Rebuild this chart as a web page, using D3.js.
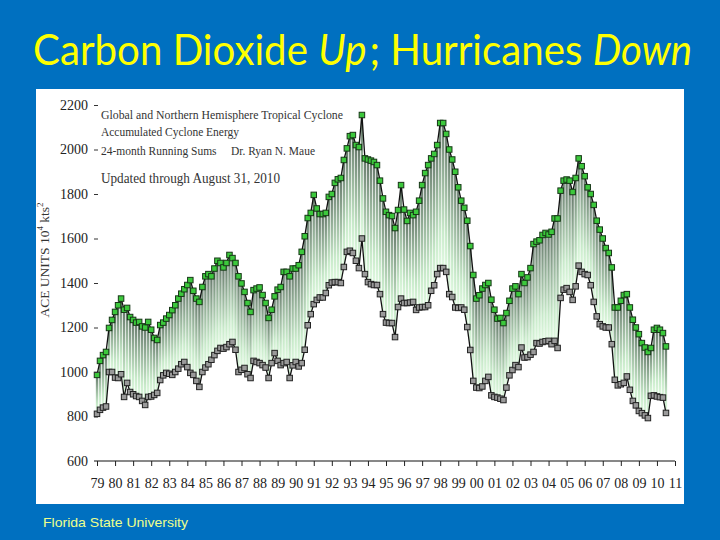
<!DOCTYPE html>
<html><head><meta charset="utf-8">
<script src="https://cdn.jsdelivr.net/npm/d3@7"></script>
<style>html,body{margin:0;padding:0;background:#0070c0;}svg{display:block;}</style>
</head><body>
<svg id="chart" width="720" height="540"></svg>
<script>
// ---- data (24-month running sums, read every two months from Jan 1979) ----
const startYear = 1979;
const stepsPerYear = 6;
const globalACE = [
 987,1050,1076,1090,1198,1234,1270,1300,1330,1280,
 1288,1247,1234,1222,1225,1205,1200,1225,1190,1153,
 1144,1211,1222,1240,1256,1278,1300,1330,1352,1372,
 1391,1413,1365,1330,1315,1382,1430,1440,1430,1465,
 1500,1490,1470,1490,1526,1512,1490,1430,1398,1360,
 1310,1270,1368,1375,1380,1346,1310,1243,1280,1340,
 1370,1382,1450,1450,1430,1465,1465,1480,1540,1610,
 1692,1715,1796,1735,1710,1710,1715,1787,1800,1850,
 1866,1872,1953,2005,2060,2065,2020,2011,2155,1960,
 1955,1950,1944,1930,1860,1780,1720,1705,1701,1647,
 1728,1840,1730,1679,1715,1705,1720,1770,1840,1894,
 1930,1960,1980,2020,2119,2119,2070,2000,1955,1900,
 1830,1770,1738,1680,1566,1436,1330,1345,1375,1391,
 1400,1325,1280,1240,1243,1220,1265,1320,1375,1385,
 1350,1440,1400,1425,1467,1575,1586,1592,1616,1625,
 1618,1630,1690,1690,1815,1860,1865,1860,1809,1872,
 1960,1925,1880,1830,1800,1751,1680,1640,1600,1557,
 1535,1470,1290,1290,1320,1346,1350,1290,1235,1200,
 1170,1130,1110,1090,1108,1190,1198,1190,1175,1115];
const nhACE = [
 812,830,840,845,1000,1000,975,973,990,888,
 951,910,900,892,888,870,852,888,890,897,
 906,964,985,996,992,987,1000,1015,1035,1045,
 1022,996,987,960,933,1000,1020,1035,1055,1076,
 1095,1108,1105,1112,1125,1135,1100,1000,1010,1018,
 990,973,1050,1045,1040,1031,1020,973,1040,1085,
 1050,1031,1040,1045,973,1030,1045,1025,1040,1100,
 1210,1260,1305,1324,1335,1335,1355,1390,1402,1404,
 1404,1400,1472,1540,1545,1535,1500,1467,1600,1440,
 1404,1395,1391,1391,1350,1260,1222,1220,1220,1157,
 1292,1330,1310,1310,1312,1315,1279,1290,1292,1292,
 1300,1365,1390,1440,1467,1467,1450,1350,1337,1290,
 1288,1290,1280,1202,1099,960,930,928,935,960,
 978,895,888,885,880,874,930,985,1009,1031,
 1022,1110,1065,1067,1078,1090,1130,1128,1135,1138,
 1140,1125,1140,1108,1333,1370,1377,1360,1324,1385,
 1478,1450,1440,1436,1390,1315,1250,1215,1205,1200,
 1200,1125,965,940,945,951,980,920,870,850,
 825,815,805,793,893,895,890,887,885,816];
const yTicks = [600,800,1000,1200,1400,1600,1800,2000,2200];
const xTickYears = d3.range(1979, 2012);
const xTickLabels = ["79","80","81","82","83","84","85","86","87","88","89","90","91","92","93","94","95","96","97","98","99","00","01","02","03","04","05","06","07","08","09","10","11"];
const titleParts = [["Carbon Dioxide ",false],["Up",true],["; Hurricanes ",false],["Down",true]];
const noteLines = ["Global and Northern Hemisphere Tropical Cyclone","Accumulated Cyclone Energy","24-month Running Sums\u00a0\u00a0\u00a0\u00a0 Dr. Ryan N. Maue","Updated through August 31, 2010"];
const footer = "Florida State University";

const times = globalACE.map((_, i) => startYear + i / stepsPerYear);
const data = times.map((t, i) => ({t, g: globalACE[i], n: nhACE[i]}));

const svg = d3.select("#chart");
svg.append("rect").attr("width",720).attr("height",540).attr("fill","#0070c0");

// title: parts laid out one after another, then the group is scaled to the reference width
const titleG = svg.append("g");
let cx = 0;
titleParts.forEach(([s,it]) => {
  const t = titleG.append("text").attr("x",cx).attr("y",0)
    .attr("font-family","Lato, 'Open Sans', sans-serif").attr("font-size",42)
    .attr("font-style", it?"italic":"normal").attr("fill","#ffff00")
    .style("white-space","pre").text(s);
  cx += t.node().getComputedTextLength() + (it ? 3 : 0);
});
titleG.attr("transform", `translate(33,65) scale(${662/cx},1)`);

// white panel
svg.append("rect").attr("x",36).attr("y",89).attr("width",648).attr("height",415).attr("fill","#ffffff");

// footer
svg.append("text").attr("x",43).attr("y",527).attr("font-family","'Liberation Sans', Arial, sans-serif")
  .attr("font-size",13).attr("fill","#eeff8c").attr("textLength",145).attr("lengthAdjust","spacingAndGlyphs").text(footer);

// scales
const x = d3.scaleLinear().domain([1979, 2011]).range([97, 675]);
const y = d3.scaleLinear().domain([600, 2200]).range([461, 105]);

// gradient
const defs = svg.append("defs");
const grad = defs.append("linearGradient").attr("id","barGrad").attr("x1",0).attr("y1",0).attr("x2",0).attr("y2",1);
grad.append("stop").attr("offset","0%").attr("stop-color","#66786b");
grad.append("stop").attr("offset","35%").attr("stop-color","#94b098");
grad.append("stop").attr("offset","75%").attr("stop-color","#c8eaca");
grad.append("stop").attr("offset","100%").attr("stop-color","#e2fae2");

const bw = 2.3;
svg.append("g").selectAll("rect").data(data).join("rect")
  .attr("x", d => x(d.t) - bw/2).attr("width", bw)
  .attr("y", d => y(d.g)).attr("height", d => Math.max(0, y(d.n) - y(d.g)))
  .attr("fill","url(#barGrad)");

// lines
const lineG = d3.line().x(d => x(d.t)).y(d => y(d.g));
const lineN = d3.line().x(d => x(d.t)).y(d => y(d.n));
svg.append("path").datum(data).attr("d", lineN).attr("fill","none").attr("stroke","#111").attr("stroke-width",1.3);
svg.append("path").datum(data).attr("d", lineG).attr("fill","none").attr("stroke","#111").attr("stroke-width",1.3);

// markers
const ms = 5.5;
svg.append("g").selectAll("rect").data(data).join("rect")
  .attr("x", d => x(d.t) - ms/2).attr("y", d => y(d.n) - ms/2).attr("width", ms).attr("height", ms)
  .attr("fill","#9a9a9a").attr("stroke","#222").attr("stroke-width",1);
svg.append("g").selectAll("rect").data(data).join("rect")
  .attr("x", d => x(d.t) - ms/2).attr("y", d => y(d.g) - ms/2).attr("width", ms).attr("height", ms)
  .attr("fill","#3cc83c").attr("stroke","#173717").attr("stroke-width",1);

// y axis
const serif = "'Liberation Serif', 'DejaVu Serif', serif";
const yAxis = svg.append("g").attr("transform","translate(98,0)")
  .call(d3.axisLeft(y).tickValues(yTicks).tickSize(4).tickPadding(6).tickFormat(d3.format("d")));
yAxis.select(".domain").remove();
yAxis.selectAll("text").attr("font-family", serif).attr("font-size",14).attr("fill","#222");
yAxis.selectAll(".tick line").attr("stroke","#333").filter(d => d === 600).remove();

// x axis
const xAxis = svg.append("g").attr("transform","translate(0,461)")
  .call(d3.axisBottom(x).tickValues(xTickYears).tickSize(5).tickPadding(12)
    .tickFormat((d,i) => xTickLabels[i]));
xAxis.select(".domain").attr("d","M94,0H675").attr("stroke","#111");
xAxis.selectAll(".tick line").attr("stroke","#222");
xAxis.selectAll("text").attr("font-family", serif).attr("font-size",14).attr("fill","#222");

// y axis title
const yt = svg.append("text").attr("transform","translate(49,260) rotate(-90)")
  .attr("text-anchor","middle").attr("font-family", serif).attr("font-size",13.5).attr("fill","#333");
yt.append("tspan").text("ACE UNITS 10");
yt.append("tspan").text("4").attr("font-size",9).attr("dy",-6);
yt.append("tspan").text(" kts").attr("font-size",13.5).attr("dy",6);
yt.append("tspan").text("2").attr("font-size",9).attr("dy",-6);

// notes
const notes = svg.append("g").attr("font-family", serif).attr("fill","#333");
const noteY = [119, 136, 155, 183];
const noteW = [242, 138, 214, 179];
const noteS = [12.5, 12.5, 12.5, 14];
noteLines.forEach((s,i) => notes.append("text").attr("x",101).attr("y",noteY[i])
  .attr("font-size",noteS[i]).attr("textLength",noteW[i]).attr("lengthAdjust","spacingAndGlyphs").text(s));
</script>
</body></html>
